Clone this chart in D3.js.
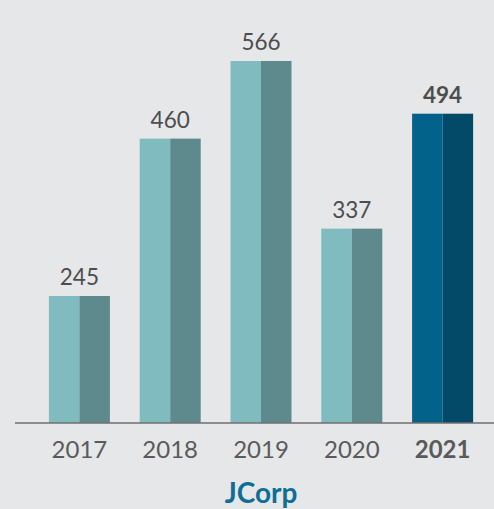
<!DOCTYPE html>
<html>
<head>
<meta charset="utf-8">
<script src="https://cdn.jsdelivr.net/npm/d3@7"></script>
<style>
  html, body { margin: 0; padding: 0; background: #e6e7e9; }
  text { font-family: Lato, "Open Sans", sans-serif; }
</style>
</head>
<body>
<script>
// Data
var years = ["2017", "2018", "2019", "2020", "2021"];
var values = [245, 460, 566, 337, 494];
var highlight = "2021";
var title = "JCorp";

var width = 494, height = 509;
var baseline = 423;

var data = years.map(function(y, i) { return {year: y, value: values[i]}; });

var svg = d3.select("body")
    .append("svg")
    .attr("width", width)
    .attr("height", height);

// Scales
var x = d3.scaleBand()
    .domain(years)
    .range([34, 488])
    .paddingInner(0.328)
    .paddingOuter(0.164);

var y = d3.scaleLinear()
    .domain([71.5, 566])
    .range([baseline, 61]);

var bars = svg.selectAll(".bar")
    .data(data)
    .enter().append("g")
      .attr("class", "bar");

// left half (lighter)
bars.append("rect")
    .attr("x", function(d) { return x(d.year); })
    .attr("y", function(d) { return y(d.value); })
    .attr("width", x.bandwidth() / 2)
    .attr("height", function(d) { return baseline - y(d.value); })
    .style("fill", function(d) { return d.year === highlight ? "#03628a" : "#80bcbf"; });

// right half (darker)
bars.append("rect")
    .attr("x", function(d) { return x(d.year) + x.bandwidth() / 2; })
    .attr("y", function(d) { return y(d.value); })
    .attr("width", x.bandwidth() / 2)
    .attr("height", function(d) { return baseline - y(d.value); })
    .style("fill", function(d) { return d.year === highlight ? "#024a68" : "#5e8a8e"; });

// value labels
bars.append("text")
    .attr("x", function(d) { return x(d.year) + x.bandwidth() / 2; })
    .attr("y", function(d) { return y(d.value) - 11; })
    .style("text-anchor", "middle")
    .style("font-size", "22.5px")
    .style("font-weight", function(d) { return d.year === highlight ? "bold" : "normal"; })
    .style("fill", "#4d4d4d")
    .text(function(d) { return d.value; });

// x axis
var xAxis = d3.axisBottom(x).tickSize(0).tickPadding(18);

var gx = svg.append("g")
    .attr("class", "x-axis")
    .attr("transform", "translate(0," + baseline + ")")
    .call(xAxis);

gx.select(".domain").remove();
gx.append("line")
    .attr("x1", 15)
    .attr("x2", width)
    .attr("stroke", "#6f6f6f")
    .attr("stroke-width", 1.5);

gx.selectAll(".tick text")
    .style("font-family", "Lato, 'Open Sans', sans-serif")
    .style("font-size", "24px")
    .style("fill", "#5a5a5a")
    .style("font-weight", function(d) { return d === highlight ? "bold" : "normal"; })
    .attr("dy", "0.71em");

// title
svg.append("text")
    .attr("x", (x(years[0]) + x(years[years.length - 1]) + x.bandwidth()) / 2)
    .attr("y", 503)
    .style("text-anchor", "middle")
    .style("font-size", "28px")
    .style("font-weight", "bold")
    .style("fill", "#0f6e94")
    .text(title);
</script>
</body>
</html>
